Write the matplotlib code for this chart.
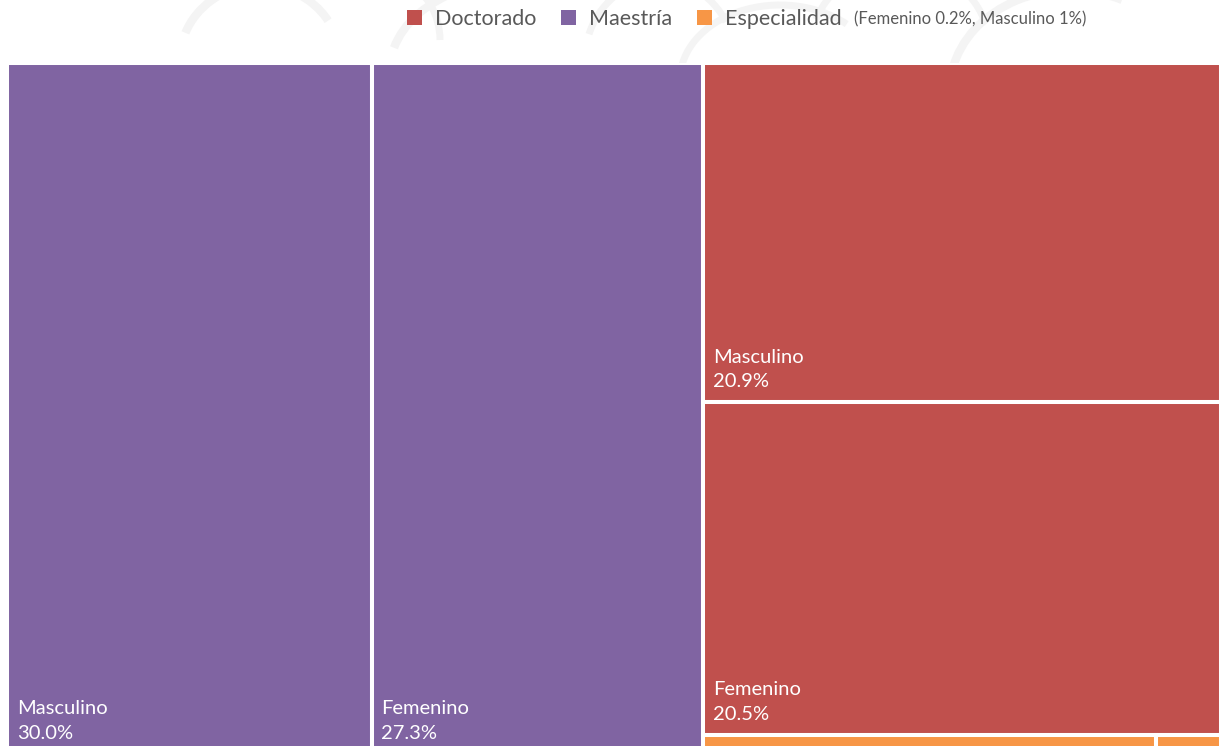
import matplotlib
matplotlib.use("Agg")
import matplotlib.pyplot as plt
from matplotlib.patches import Rectangle, Patch, Arc

plt.rcParams["font.family"] = ["Lato", "DejaVu Sans"]

# categories and shares (%)
levels = ["Doctorado", "Maestría", "Especialidad"]
level_colors = ["#C0504D", "#8064A2", "#F79646"]

maestria_labels = ["Masculino", "Femenino"]
maestria_values = [30.0, 27.3]

doctorado_labels = ["Masculino", "Femenino"]
doctorado_values = [20.9, 20.5]

# Especialidad tiles (sizes as they appear; legend quotes rounded values)
especialidad_labels = ["Masculino", "Femenino"]
especialidad_values = [1.05, 0.15]

BG = "white"
GAP = 2.9
TEXT_COLOR = "#595959"

fig = plt.figure(figsize=(12.19, 7.46), dpi=100)
fig.patch.set_facecolor(BG)

# faint watermark strokes in the header band
wm = fig.add_axes([0, 0, 1, 1], zorder=0)
wm.set_xlim(0, 1219)
wm.set_ylim(746, 0)
wm.axis("off")
for (cx, cy, w, h, a1, a2, lw) in [
    (260, 60, 160, 150, 200, 330, 6), (380, 40, 120, 130, 230, 360, 5),
    (520, 70, 260, 180, 190, 300, 6), (660, 60, 150, 160, 200, 330, 5),
    (780, 80, 200, 150, 180, 320, 5), (900, 50, 180, 170, 200, 340, 5),
    (1070, 90, 240, 200, 190, 300, 6),
]:
    wm.add_patch(Arc((cx, cy), w, h, theta1=a1, theta2=a2, color="#f4f4f4", lw=lw))

total = sum(maestria_values) + sum(doctorado_values) + sum(especialidad_values)

# treemap axes: extends slightly past the bottom and right of the figure
ax = fig.add_axes([7 / 1219, -8 / 746, 1214 / 1219, 691 / 746], zorder=1)
ax.set_xlim(0, total)
ax.set_ylim(0, 1)
ax.axis("off")

maestria_color = level_colors[1]
doctorado_color = level_colors[0]
especialidad_color = level_colors[2]


def tile(x, y, w, h, color, label=None, value=None):
    ax.add_patch(Rectangle((x, y), w, h, facecolor=color, edgecolor="white",
                           linewidth=GAP, zorder=2))
    if label is not None:
        ax.annotate(f"{label}\n{value:.1f}%", xy=(x, y), xytext=(7, 8.5),
                    textcoords="offset points", color="white", fontsize=14.5,
                    ha="left", va="bottom", linespacing=1.55, zorder=3)


x0 = 0.0
for lab, v in zip(maestria_labels, maestria_values):
    tile(x0, 0, v, 1, maestria_color, lab, v)
    x0 += v

col_w = sum(doctorado_values) + sum(especialidad_values)
y_top = 1.0
for lab, v in zip(doctorado_labels, doctorado_values):
    h = v / col_w
    tile(x0, y_top - h, col_w, h, doctorado_color, lab, v)
    y_top -= h

esp_h = sum(especialidad_values) / col_w
ex = x0
for v in especialidad_values:
    w = v / sum(especialidad_values) * col_w
    tile(ex, 0, w, esp_h, especialidad_color)
    ex += w

# legend
handles = [Patch(facecolor=c, edgecolor="none") for c in level_colors]
leg = fig.legend(handles, levels, loc="center left", bbox_to_anchor=(398 / 1219, 1 - 19 / 746),
                 ncol=3, frameon=False, fontsize=15.5, handlelength=0.7, handleheight=0.7,
                 handletextpad=0.6, columnspacing=1.15, labelcolor=TEXT_COLOR, borderaxespad=0)
fig.canvas.draw()
bb = leg.get_window_extent()
fig.text((bb.x1 + 4) / 1219, 1 - 19 / 746, "(Femenino 0.2%, Masculino 1%)", fontsize=12,
         color=TEXT_COLOR, ha="left", va="center")

fig.savefig("out.png", dpi=100, facecolor=BG)
